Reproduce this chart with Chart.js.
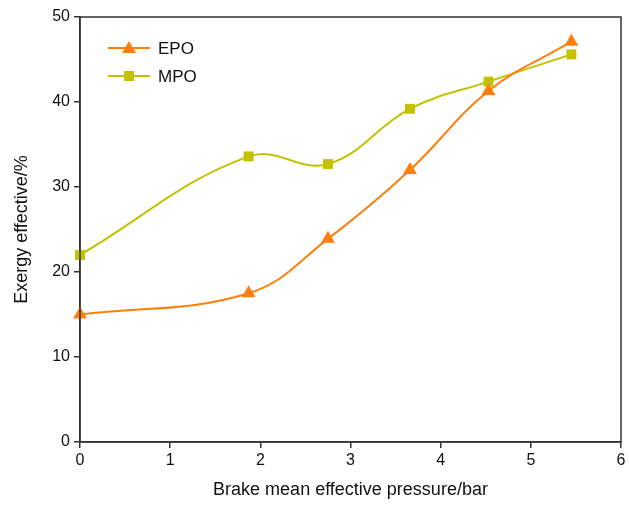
<!DOCTYPE html>
<html>
<head>
<meta charset="utf-8">
<script src="https://cdn.jsdelivr.net/npm/chart.js@4/dist/chart.umd.min.js"></script>
<style>
  html, body { margin: 0; padding: 0; background: #fff; }
  #wrap { width: 629px; height: 505px; }
</style>
</head>
<body>
<div id="wrap"><canvas id="c" width="629" height="505"></canvas></div>
<script>
// Brake mean effective pressure (bar) at each load step
const bmep = [0, 1.87, 2.75, 3.66, 4.53, 5.45];
// Exergy effectiveness (%) for each blend
const epo = [15.0, 17.5, 23.9, 32.0, 41.3, 47.1];
const mpo = [22.0, 33.6, 32.7, 39.2, 42.4, 45.6];
const seriesNames = ['EPO', 'MPO'];
const xTicks = [0, 1, 2, 3, 4, 5, 6];
const yTicks = [0, 10, 20, 30, 40, 50];

const ORANGE = '#FF7F0E';
const OLIVE = '#C2C200';
const FONT = 'Liberation Sans, Arial, Helvetica, sans-serif';

const toPoints = (xs, ys) => xs.map((x, i) => ({ x: x, y: ys[i] }));

// Frame around the plot area plus the in-plot legend
const framePlugin = {
  id: 'frame',
  afterDraw(chart) {
    const { ctx, chartArea: a } = chart;
    ctx.save();
    ctx.strokeStyle = '#333';
    ctx.lineWidth = 1.5;
    ctx.strokeRect(a.left, a.top, a.right - a.left, a.bottom - a.top);

    chart.data.datasets.forEach((ds, i) => {
      const y = a.top + 31 + i * 28;
      const x0 = a.left + 28;
      ctx.strokeStyle = ds.borderColor;
      ctx.lineWidth = 2;
      ctx.beginPath();
      ctx.moveTo(x0, y);
      ctx.lineTo(x0 + 42, y);
      ctx.stroke();
      ctx.fillStyle = ds.backgroundColor;
      const cx = x0 + 21;
      if (ds.pointStyle === 'triangle') {
        ctx.beginPath();
        ctx.moveTo(cx, y - 7);
        ctx.lineTo(cx + 7, y + 5);
        ctx.lineTo(cx - 7, y + 5);
        ctx.closePath();
        ctx.fill();
      } else {
        ctx.fillRect(cx - 5, y - 5, 10, 10);
      }
      ctx.fillStyle = '#111';
      ctx.font = '17px ' + FONT;
      ctx.textBaseline = 'middle';
      ctx.textAlign = 'left';
      ctx.fillText(ds.label, x0 + 50, y + 1);
    });
    ctx.restore();
  }
};

new Chart(document.getElementById('c'), {
  type: 'scatter',
  data: {
    datasets: [
      {
        label: seriesNames[0],
        data: toPoints(bmep, epo),
        showLine: true,
        clip: false,
        borderColor: ORANGE,
        backgroundColor: ORANGE,
        borderWidth: 2,
        tension: 0.4,
        pointStyle: 'triangle',
        pointRadius: 8,
        pointHoverRadius: 8,
        pointBorderWidth: 0
      },
      {
        label: seriesNames[1],
        data: toPoints(bmep, mpo),
        showLine: true,
        clip: false,
        borderColor: OLIVE,
        backgroundColor: OLIVE,
        borderWidth: 2,
        tension: 0.4,
        pointStyle: 'rect',
        pointRadius: 7,
        pointHoverRadius: 7,
        pointBorderWidth: 0
      }
    ]
  },
  options: {
    responsive: false,
    animation: false,
    layout: { padding: { top: 17, right: 4, left: 7, bottom: 0 } },
    plugins: {
      legend: { display: false },
      tooltip: { enabled: false }
    },
    scales: {
      x: {
        type: 'linear',
        min: 0,
        max: 6,
        afterBuildTicks(scale) { scale.ticks = xTicks.map(v => ({ value: v })); },
        afterFit(scale) { scale.height = 63; scale.paddingRight = 0; },
        grid: { drawOnChartArea: false, color: '#333', tickLength: 6, lineWidth: 1.5 },
        border: { color: '#333', width: 1.5 },
        ticks: { color: '#111', font: { family: FONT, size: 16 }, padding: 3 },
        title: {
          display: true,
          text: 'Brake mean effective pressure/bar',
          color: '#111',
          font: { family: FONT, size: 18 },
          padding: { top: 2 }
        }
      },
      y: {
        type: 'linear',
        min: 0,
        max: 50,
        afterBuildTicks(scale) { scale.ticks = yTicks.map(v => ({ value: v })); },
        afterFit(scale) { scale.width = 73; },
        grid: { drawOnChartArea: false, color: '#333', tickLength: 6, lineWidth: 1.5 },
        border: { color: '#333', width: 1.5 },
        ticks: { color: '#111', font: { family: FONT, size: 16 }, padding: 4 },
        title: {
          display: true,
          text: 'Exergy effective/%',
          color: '#111',
          font: { family: FONT, size: 18 },
          padding: { bottom: 6 }
        }
      }
    }
  },
  plugins: [framePlugin]
});
</script>
</body>
</html>
